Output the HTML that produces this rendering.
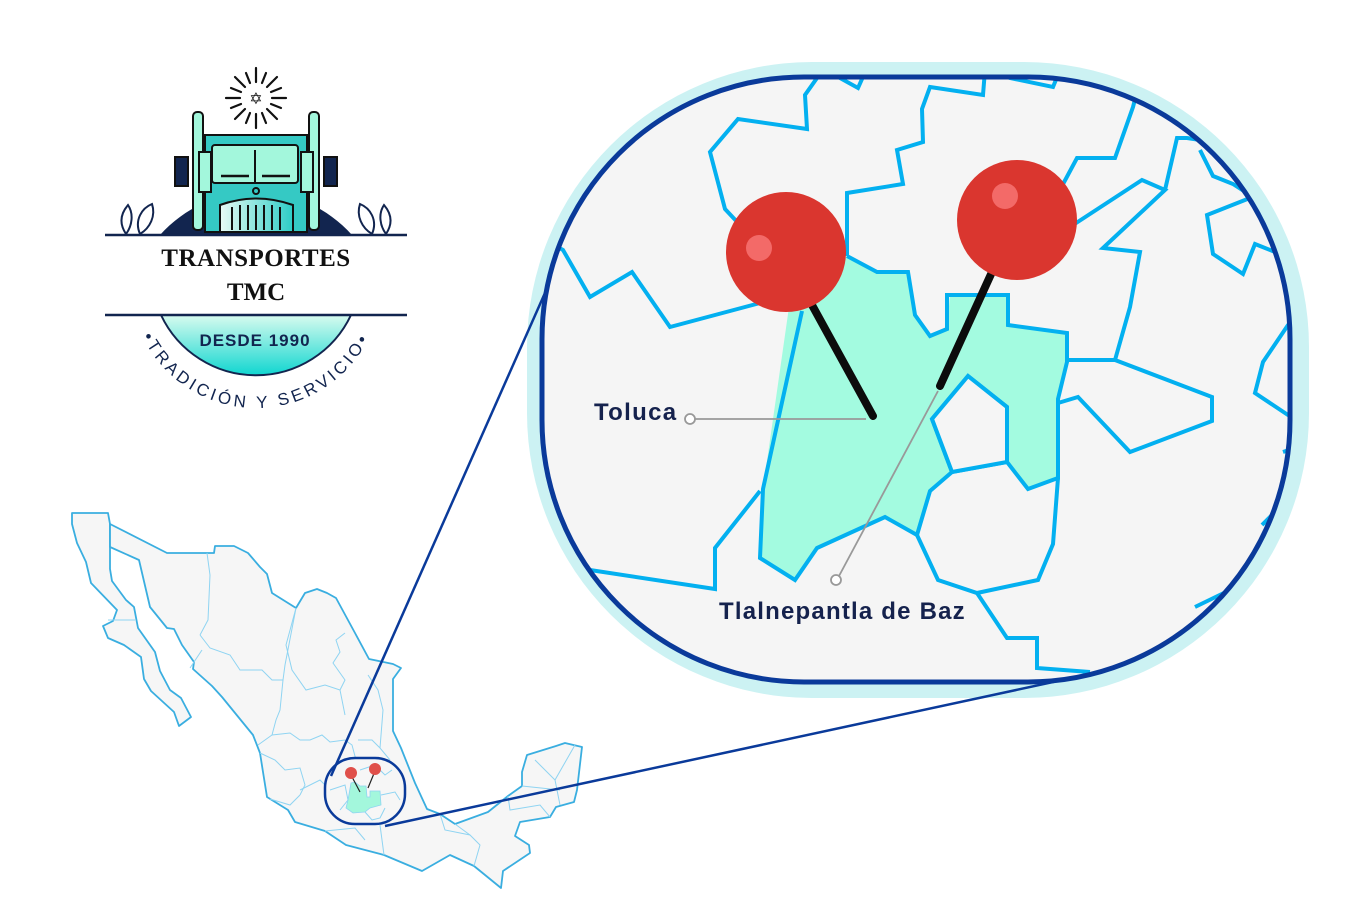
<!DOCTYPE html>
<html><head><meta charset="utf-8"><style>
html,body{margin:0;padding:0;background:#fff;}
svg{display:block;}
</style></head><body>
<svg width="1356" height="912" viewBox="0 0 1356 912" xmlns="http://www.w3.org/2000/svg">
<defs>
<linearGradient id="lg" x1="0" y1="0" x2="0" y2="1"><stop offset="0" stop-color="#d8fbef"/><stop offset="1" stop-color="#10d6d0"/></linearGradient>
<linearGradient id="gr" x1="0" y1="0" x2="1" y2="0"><stop offset="0" stop-color="#e8fbf6"/><stop offset="1" stop-color="#2ccdc6"/></linearGradient>
<clipPath id="cb"><rect x="542" y="77" width="748" height="605" rx="262" ry="262"/></clipPath>
<clipPath id="cs"><rect x="325" y="758" width="80" height="66" rx="30" ry="30"/></clipPath>
</defs>

<!-- LOGO -->
<g>
  <g stroke="#111" stroke-width="2.2" stroke-linecap="round">
    <g transform="translate(256,98)">
      <line x1="0" y1="-16" x2="0" y2="-30"/><line x1="0" y1="16" x2="0" y2="30"/>
      <line x1="-16" y1="0" x2="-30" y2="0"/><line x1="16" y1="0" x2="30" y2="0"/>
      <line x1="11" y1="-11" x2="21" y2="-21"/><line x1="-11" y1="-11" x2="-21" y2="-21"/>
      <line x1="11" y1="11" x2="21" y2="21"/><line x1="-11" y1="11" x2="-21" y2="21"/>
      <line x1="6" y1="-15" x2="10" y2="-25"/><line x1="-6" y1="-15" x2="-10" y2="-25"/>
      <line x1="6" y1="15" x2="10" y2="25"/><line x1="-6" y1="15" x2="-10" y2="25"/>
      <line x1="15" y1="-6" x2="25" y2="-10"/><line x1="-15" y1="-6" x2="-25" y2="-10"/>
      <line x1="15" y1="6" x2="25" y2="10"/><line x1="-15" y1="6" x2="-25" y2="10"/>
    </g>
  </g>
  <text x="256" y="104" font-size="16" text-anchor="middle" fill="#111" font-family="DejaVu Sans, sans-serif">✡</text>
  <path d="M160,235 A128.7,128.7 0 0,1 352,235 Z" fill="#12254f"/>
  <rect x="193" y="112" width="10" height="118" rx="4" fill="#a3f7dc" stroke="#111" stroke-width="2"/>
  <rect x="309" y="112" width="10" height="118" rx="4" fill="#a3f7dc" stroke="#111" stroke-width="2"/>
  <rect x="175" y="157" width="13" height="29" fill="#12254f" stroke="#111" stroke-width="2"/>
  <rect x="324" y="157" width="13" height="29" fill="#12254f" stroke="#111" stroke-width="2"/>
  <rect x="205" y="135" width="102" height="97" fill="#35c9c4" stroke="#111" stroke-width="2"/>
  <rect x="212" y="145" width="86" height="38" rx="3" fill="#a3f7dc" stroke="#111" stroke-width="2"/>
  <line x1="255" y1="150" x2="255" y2="183" stroke="#111" stroke-width="2"/>
  <line x1="221" y1="176" x2="249" y2="176" stroke="#111" stroke-width="2.5"/>
  <line x1="262" y1="176" x2="290" y2="176" stroke="#111" stroke-width="2.5"/>
  <rect x="199" y="152" width="12" height="40" fill="#a3f7dc" stroke="#111" stroke-width="2"/>
  <rect x="301" y="152" width="12" height="40" fill="#a3f7dc" stroke="#111" stroke-width="2"/>
  <circle cx="256" cy="191" r="3" fill="none" stroke="#111" stroke-width="2"/>
  <path d="M220,232 L220,205 Q256,192 293,205 L293,232 Z" fill="url(#gr)" stroke="#111" stroke-width="2"/>
  <g stroke="#111" stroke-width="2">
    <line x1="232" y1="207" x2="232" y2="230"/><line x1="240" y1="205" x2="240" y2="230"/><line x1="248" y1="205" x2="248" y2="230"/>
    <line x1="256" y1="205" x2="256" y2="230"/><line x1="264" y1="205" x2="264" y2="230"/><line x1="272" y1="205" x2="272" y2="230"/><line x1="280" y1="207" x2="280" y2="230"/>
  </g>
  <g fill="none" stroke="#12254f" stroke-width="2">
    <path d="M126,234 C118,222 122,212 128,205 C134,214 132,226 126,234 Z"/>
    <path d="M140,234 C134,220 142,208 152,204 C156,216 150,228 140,234 Z"/>
    <path d="M386,234 C394,222 390,212 384,205 C378,214 380,226 386,234 Z"/>
    <path d="M372,234 C378,220 370,208 360,204 C356,216 362,228 372,234 Z"/>
  </g>
  <line x1="105" y1="235" x2="407" y2="235" stroke="#12254f" stroke-width="2.5"/>
  <text x="256" y="266" font-family="Liberation Serif, serif" font-weight="bold" font-size="25" text-anchor="middle" fill="#111" letter-spacing="0.5">TRANSPORTES</text>
  <text x="256" y="300" font-family="Liberation Serif, serif" font-weight="bold" font-size="25" text-anchor="middle" fill="#111">TMC</text>
  <path d="M161,315 A105,105 0 0,0 351,315 Z" fill="url(#lg)" stroke="#12254f" stroke-width="2"/>
  <line x1="105" y1="315" x2="407" y2="315" stroke="#12254f" stroke-width="2.5"/>
  <text x="255" y="346" font-family="Liberation Sans, sans-serif" font-weight="bold" font-size="17" text-anchor="middle" fill="#12254f" letter-spacing="1">DESDE 1990</text>
  <path id="arc" d="M130,282 A126,126 0 0,0 382,282" fill="none"/>
  <text font-family="Liberation Sans, sans-serif" font-size="17" fill="#12254f" letter-spacing="3.5"><textPath href="#arc" startOffset="50%" text-anchor="middle">•TRADICIÓN Y SERVICIO•</textPath></text>
</g>

<!-- MEXICO MAP -->
<g stroke="#3aaee0" stroke-width="1.8" fill="#f6f6f6" stroke-linejoin="round">
  <polygon points="72,513 108,513 110,524 110,547 110,569 112,581 126,600 134,607 138,628 155,652 160,671 170,690 181,698 191,717 179,726 174,712 151,691 144,679 141,657 124,645 108,638 103,626 113,621 117,610 91,583 86,562 77,543 72,524"/>
  <polygon points="110,524 167,553 214,553 215,546 234,546 248,553 260,567 267,574 272,593 296,608 305,593 317,589 327,593 336,598 355,633 369,659 393,664 401,668 393,679 393,731 401,748 415,783 427,809 440,814 455,824 488,812 508,796 522,786 522,772 527,755 556,746 565,743 582,747 577,790 574,802 556,807 550,817 520,822 515,836 529,845 530,853 503,871 501,888 474,866 450,855 422,871 384,855 346,845 325,831 315,828 295,822 288,810 267,797 263,772 260,753 253,735 222,697 212,686 193,669 194,662 182,645 174,629 167,628 150,607 139,560 110,547"/>
</g>
<g stroke="#8fd4f2" stroke-width="1" fill="none">
  <polyline points="108,620 135,620"/>
  <polyline points="207,553 210,575 208,620 200,635"/>
  <polyline points="200,635 210,648 230,655 240,670 262,670 272,680 283,680 285,665 296,608"/>
  <polyline points="190,668 202,650"/>
  <polyline points="283,680 280,710 276,720 272,735 265,740 258,745"/>
  <polyline points="296,608 286,645 292,670 306,690 325,685 340,690 345,715"/>
  <polyline points="345,633 336,640 340,652 333,663 345,680 340,690"/>
  <polyline points="272,735 290,733 300,740 310,740 322,735 330,742 345,740 352,745 356,760 350,780"/>
  <polyline points="358,740 372,740 380,748 390,760"/>
  <polyline points="260,753 275,760 285,770 300,768 305,785 300,795"/>
  <polyline points="300,795 290,805 270,799"/>
  <polyline points="300,790 320,780 330,790"/>
  <polyline points="325,831 355,828 365,840"/>
  <polyline points="384,855 380,825"/>
  <polyline points="440,814 445,830 470,835 480,845 474,866"/>
  <polyline points="455,824 470,835"/>
  <polyline points="508,796 510,810 540,805 550,817"/>
  <polyline points="522,786 560,790"/>
  <polyline points="575,745 555,780 560,805"/>
  <polyline points="535,760 555,780"/>
  <polyline points="380,748 383,710 378,690 368,675"/>
</g>
<g clip-path="url(#cs)">
  <rect x="325" y="758" width="80" height="66" fill="#f6f6f6"/>
  <polygon points="351,783 355,782 360,786 366,786 367,797 370,797 370,791 380,791 381,805 370,808 365,812 353,813 346,808 348,800" fill="#a3f7dc" stroke="#8fd4f2" stroke-width="0.8"/>
  <g stroke="#8fd4f2" stroke-width="1" fill="none">
    <polyline points="330,790 345,785 348,800 340,810"/>
    <polyline points="365,812 372,820 380,818 385,808"/>
    <polyline points="381,795 395,792 400,800"/>
    <polyline points="360,770 375,765 385,775 392,770"/>
  </g>
</g>
<line x1="351" y1="775" x2="360" y2="792" stroke="#222" stroke-width="1.2"/>
<line x1="375" y1="771" x2="368" y2="788" stroke="#222" stroke-width="1.2"/>
<circle cx="351" cy="773" r="6" fill="#e0504a"/>
<circle cx="375" cy="769" r="6" fill="#e0504a"/>
<rect x="325" y="758" width="80" height="66" rx="30" ry="30" fill="none" stroke="#0a3a9a" stroke-width="2.5"/>

<!-- BIG MAGNIFIER -->
<rect x="527" y="62" width="782" height="636" rx="285" ry="285" fill="#ccf2f3"/>
<!-- connector lines (over halo) -->
<line x1="564" y1="250" x2="331" y2="776" stroke="#0a3a9a" stroke-width="2.5"/>
<line x1="385" y1="826" x2="1095" y2="673" stroke="#0a3a9a" stroke-width="2.5"/>
<rect x="542" y="77" width="748" height="605" rx="262" ry="262" fill="#f5f5f5"/>
<g clip-path="url(#cb)">
  <polygon points="790,300 847,256 877,272 908,272 915,315 930,336 947,329 950,295 1008,295 1008,325 1067,333 1067,362 1058,399 1058,478 1028,489 1007,462 1007,407 968,376 932,419 952,472 930,491 917,535 885,517 817,548 795,580 760,558 763,489" fill="#a3fbe0"/>
  <g fill="none" stroke="#03b0f0" stroke-width="4" stroke-linejoin="miter">
    <polyline points="802,311 763,489 760,558 795,580 817,548 885,517 917,535"/>
    <polyline points="847,256 877,272 908,272 915,315 930,336 947,329 947,295 1008,295 1008,325 1067,333 1067,362 1058,399 1058,478 1028,489 1007,462 1007,407 968,376 932,419 952,472 930,491 917,535"/>
    <polyline points="952,472 1007,462"/>
    <polyline points="817,70 817,78 805,95 807,129 738,119 710,152 725,209 740,225"/>
    <polyline points="835,70 840,78 858,88 866,70"/>
    <polyline points="545,240 563,250 590,297 632,272 670,327 760,303"/>
    <polyline points="760,491 715,548 715,589 590,570"/>
    <polyline points="847,256 847,193 903,184 897,150 923,142 922,109 930,87 983,95 985,70"/>
    <polyline points="1005,70 1010,78 1053,87 1060,70"/>
    <polyline points="1140,80 1133,107 1115,158 1077,158 1062,186"/>
    <polyline points="1070,227 1142,180 1165,190 1103,248 1140,252 1130,307 1115,360 1067,360"/>
    <polyline points="1165,190 1177,138 1187,138 1200,140"/>
    <polyline points="1200,150 1213,176 1233,184 1250,195"/>
    <polyline points="1250,198 1207,215 1213,254 1243,274 1255,244 1275,252"/>
    <polyline points="1295,320 1288,325 1263,362 1255,393 1288,415 1300,420"/>
    <polyline points="1058,403 1078,397 1130,452 1212,421 1212,397 1115,360"/>
    <polyline points="917,535 938,580 977,593 1038,580 1053,544 1058,478"/>
    <polyline points="977,593 1007,638 1037,638 1037,668 1090,672"/>
    <polyline points="1195,607 1230,590"/>
    <polyline points="1262,525 1275,512"/>
    <polyline points="1283,452 1295,448"/>
  </g>
  <polygon points="932,419 968,376 1007,407 1007,462 952,472" fill="#f5f5f5" stroke="#03b0f0" stroke-width="4"/>
</g>
<line x1="695" y1="419" x2="866" y2="419" stroke="#999" stroke-width="1.8"/>
<circle cx="690" cy="419" r="5" fill="#fff" stroke="#999" stroke-width="1.8"/>
<line x1="839" y1="576" x2="938" y2="391" stroke="#999" stroke-width="1.8"/>
<circle cx="836" cy="580" r="5" fill="#fff" stroke="#999" stroke-width="1.8"/>
<line x1="812" y1="305" x2="873" y2="416" stroke="#0c0c0c" stroke-width="8" stroke-linecap="round"/>
<line x1="992" y1="272" x2="940" y2="386" stroke="#0c0c0c" stroke-width="8" stroke-linecap="round"/>
<circle cx="786" cy="252" r="60" fill="#da362f"/>
<circle cx="759" cy="248" r="13" fill="#f36a68"/>
<circle cx="1017" cy="220" r="60" fill="#da362f"/>
<circle cx="1005" cy="196" r="13" fill="#f36a68"/>
<text x="594" y="420" font-family="Liberation Sans, sans-serif" font-weight="bold" font-size="24" fill="#15224d" letter-spacing="1.3">Toluca</text>
<text x="719" y="619" font-family="Liberation Sans, sans-serif" font-weight="bold" font-size="24" fill="#15224d" letter-spacing="1.2">Tlalnepantla de Baz</text>
<rect x="542" y="77" width="748" height="605" rx="262" ry="262" fill="none" stroke="#0a3a9a" stroke-width="5"/>
</svg>
</body></html>
